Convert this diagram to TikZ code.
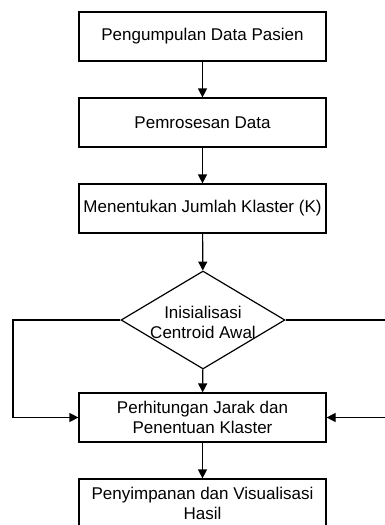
\documentclass[tikz,border=0pt]{standalone}
\usepackage{fontspec}
\setmainfont{Liberation Sans}
\usetikzlibrary{shapes.geometric,arrows.meta}
\begin{document}
\begin{tikzpicture}[x=1pt,y=1pt,
  every node/.style={font=\fontsize{17}{20}\selectfont},
  procbox/.style={draw, line width=1.2pt, rectangle, minimum width=247pt, minimum height=49pt, inner sep=0pt, align=center},
  decbox/.style={draw, line width=1.2pt, diamond, minimum width=164pt, minimum height=98pt, inner sep=0pt},
  conn/.style={line width=1.2pt, -{Triangle[length=9pt,width=9pt]}}]
\useasboundingbox (0,0) rectangle (385,-525);
\node[procbox] (b1) at (202.5,-36.5) {Pengumpulan Data Pasien};
\node[procbox] (b2) at (202.5,-122.5) {Pemrosesan Data};
\node[procbox] (b3) at (202.5,-208.5) {Menentukan Jumlah Klaster (K)};
\node[decbox] (d) at (203,-320) {};
\node[align=center, inner sep=0pt] (dt) at (203,-322) {Inisialisasi\\Centroid Awal};
\node[procbox] (b4) at (202.5,-417.5) {Perhitungan Jarak dan\\Penentuan Klaster};
\node[procbox] (b5) at (202.5,-503.5) {Penyimpanan dan Visualisasi\\Hasil};
\coordinate (lc) at (13,-320);
\coordinate (rc) at (390,-320);
\draw[conn] (b1) -- (b2);
\draw[conn] (b2) -- (b3);
\draw[conn] (b3) -- (d);
\draw[conn] (d) -- (b4);
\draw[conn] (b4) -- (b5);
\draw[conn] (d.west) -- (lc) |- (b4.west);
\draw[conn] (d.east) -- (rc) |- (b4.east);
\end{tikzpicture}
\end{document}
